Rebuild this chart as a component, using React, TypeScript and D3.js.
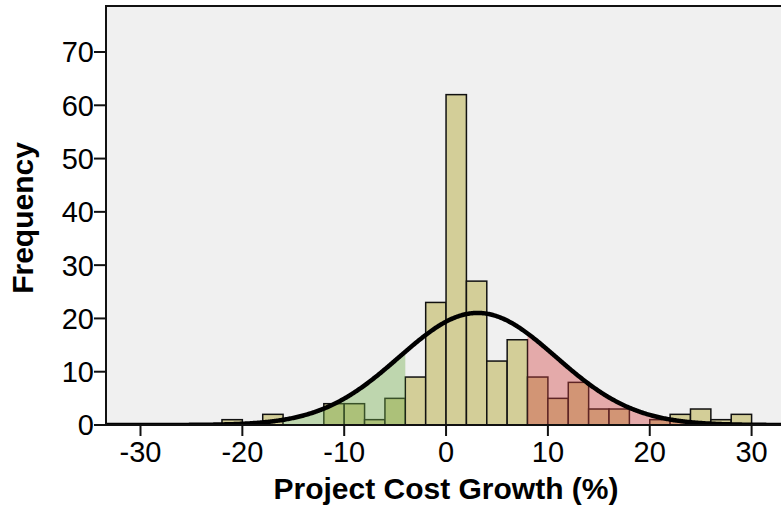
import { useEffect, useRef } from "react";
import * as d3 from "d3";

// histogram bins (left edge of each 2-unit bin) and their counts
const binStarts = [-22, -18, -12, -10, -8, -6, -4, -2, 0, 2, 4, 6, 8, 10, 12, 14, 16, 20, 22, 24, 26, 28];
const counts = [1, 2, 4, 4, 1, 5, 9, 23, 62, 27, 12, 16, 9, 5, 8, 3, 3, 1, 2, 3, 1, 2];
const binWidth = 2;

const xTicks = [-30, -20, -10, 0, 10, 20, 30];
const yTicks = [0, 10, 20, 30, 40, 50, 60, 70];

// fitted normal curve
const mean = 3.1;
const sd = 7.7;

// shaded tails under the curve
const greenRange = [-16, -4];
const redRange = [8, 24];

const App = () => {
  const ref = useRef(null);

  useEffect(() => {
    const svg = d3.select(ref.current).attr("width", 781).attr("height", 527);
    svg.selectAll("*").remove();

    const plot = { left: 106, top: 6, right: 795, bottom: 425 };
    const font = "Liberation Sans, Arial, sans-serif";

    const x = d3.scaleLinear().domain([-30, 30]).range([140.5, 751.6]);
    const y = d3.scaleLinear().domain([0, 70]).range([425, 52]);

    const n = d3.sum(counts);
    const dens = (v) =>
      (n * binWidth) / (sd * Math.sqrt(2 * Math.PI)) *
      Math.exp(-((v - mean) ** 2) / (2 * sd * sd));

    svg
      .append("rect")
      .attr("x", plot.left)
      .attr("y", plot.top)
      .attr("width", plot.right - plot.left)
      .attr("height", plot.bottom - plot.top)
      .attr("fill", "#f0f0f0");

    svg
      .append("clipPath")
      .attr("id", "clip")
      .append("rect")
      .attr("x", plot.left)
      .attr("y", plot.top)
      .attr("width", plot.right - plot.left)
      .attr("height", plot.bottom - plot.top);

    const g = svg.append("g").attr("clip-path", "url(#clip)");

    // bars
    g.selectAll(".bar")
      .data(binStarts)
      .enter()
      .append("rect")
      .attr("x", (d) => x(d))
      .attr("y", (d, i) => y(counts[i]))
      .attr("width", (d) => x(d + binWidth) - x(d))
      .attr("height", (d, i) => y(0) - y(counts[i]))
      .attr("fill", "#d3ce98")
      .attr("stroke", "#111")
      .attr("stroke-width", 1.5);

    // shaded tails
    const area = d3
      .area()
      .x((d) => x(d))
      .y0(y(0))
      .y1((d) => y(dens(d)));

    const shade = (range, color) => {
      const pts = d3.range(range[0], range[1] + 0.001, 0.1);
      g.append("path")
        .attr("d", area(pts))
        .attr("fill", color)
        .attr("fill-opacity", 0.4);
    };
    shade(greenRange, "rgb(114,176,74)");
    shade(redRange, "rgb(209,66,66)");

    // normal curve
    const curvePts = d3.range(-34, 34.01, 0.1);
    g.append("path")
      .attr(
        "d",
        d3
          .line()
          .x((d) => x(d))
          .y((d) => y(dens(d)))(curvePts)
      )
      .attr("fill", "none")
      .attr("stroke", "#000")
      .attr("stroke-width", 4.5);

    // frame
    svg
      .append("path")
      .attr("d", `M${plot.left},${plot.bottom}V${plot.top}H${plot.right}`)
      .attr("fill", "none")
      .attr("stroke", "#111")
      .attr("stroke-width", 2);
    svg
      .append("line")
      .attr("x1", plot.left)
      .attr("x2", plot.right)
      .attr("y1", plot.bottom)
      .attr("y2", plot.bottom)
      .attr("stroke", "#111")
      .attr("stroke-width", 2);

    // y axis
    yTicks.forEach((t) => {
      svg
        .append("line")
        .attr("x1", plot.left - 12)
        .attr("x2", plot.left)
        .attr("y1", y(t))
        .attr("y2", y(t))
        .attr("stroke", "#111")
        .attr("stroke-width", 2);
      svg
        .append("text")
        .attr("x", plot.left - 12)
        .attr("y", y(t))
        .attr("dy", "0.36em")
        .attr("text-anchor", "end")
        .style("font-family", font)
        .style("font-size", "29px")
        .text(t);
    });

    // x axis
    xTicks.forEach((t) => {
      svg
        .append("line")
        .attr("x1", x(t))
        .attr("x2", x(t))
        .attr("y1", plot.bottom)
        .attr("y2", plot.bottom + 11)
        .attr("stroke", "#111")
        .attr("stroke-width", 2);
      svg
        .append("text")
        .attr("x", x(t))
        .attr("y", 462)
        .attr("text-anchor", "middle")
        .style("font-family", font)
        .style("font-size", "29px")
        .text(t);
    });

    // axis titles
    svg
      .append("text")
      .attr("x", 446)
      .attr("y", 499)
      .attr("text-anchor", "middle")
      .style("font-family", font)
      .style("font-size", "30px")
      .style("font-weight", "bold")
      .text("Project Cost Growth (%)");

    svg
      .append("text")
      .attr("transform", "translate(33,218) rotate(-90)")
      .attr("text-anchor", "middle")
      .style("font-family", font)
      .style("font-size", "30px")
      .style("font-weight", "bold")
      .text("Frequency");
  }, []);

  return (
    <div style={{ position: "absolute", left: 0, top: 0 }}>
      <svg ref={ref} style={{ display: "block" }}></svg>
    </div>
  );
};

export default App;
